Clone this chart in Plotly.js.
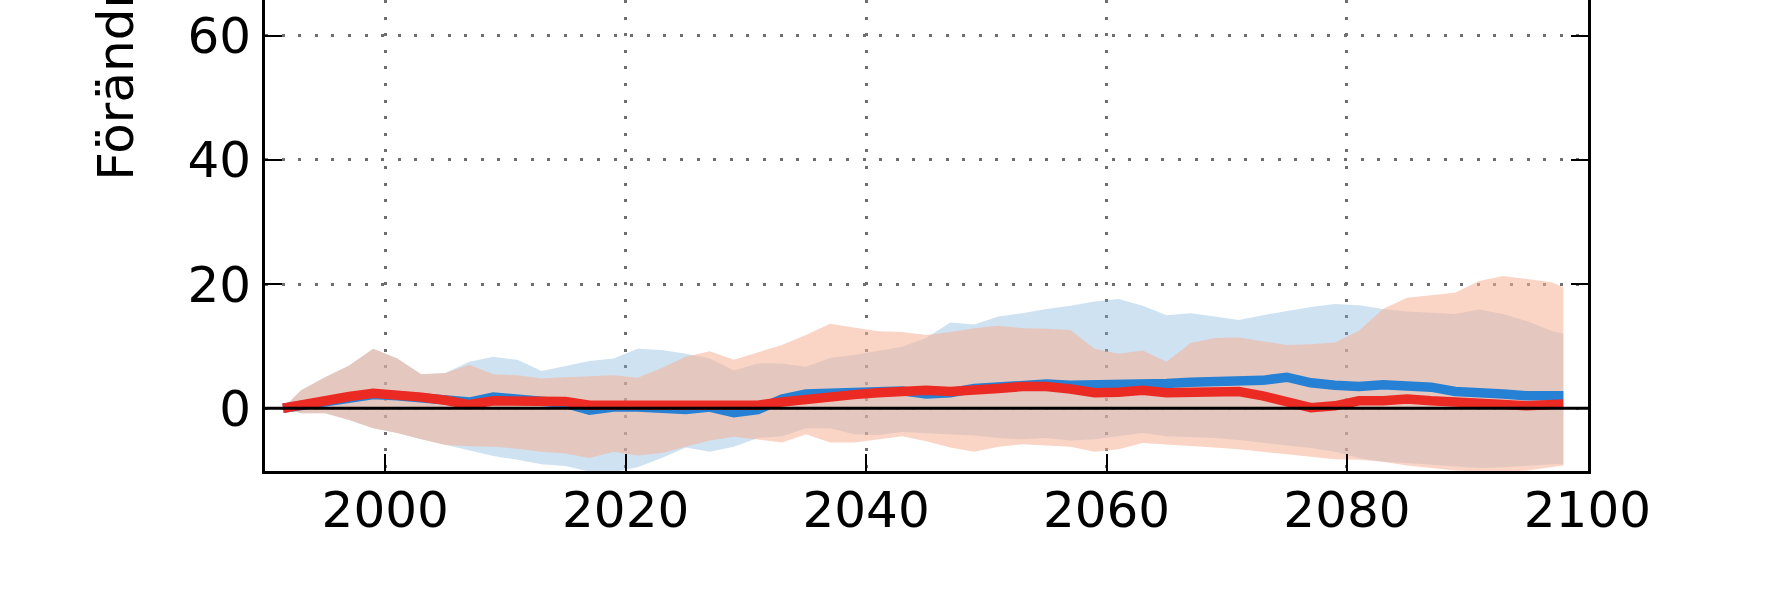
<!DOCTYPE html>
<html>
<head>
<meta charset="utf-8">
<script src="https://cdn.plot.ly/plotly-3.0.1.min.js"></script>
<style>
html,body{margin:0;padding:0;background:#fff;}
#chart{width:1767px;height:590px;}
</style>
</head>
<body>
<div id="chart"></div>
<script>
const years = [1991.5, 1993, 1995, 1997, 1999, 2001, 2003, 2005, 2007, 2009,
  2011, 2013, 2015, 2017, 2019, 2021, 2023, 2025, 2027, 2029,
  2031, 2033, 2035, 2037, 2039, 2041, 2043, 2045, 2047, 2049,
  2051, 2053, 2055, 2057, 2059, 2061, 2063, 2065, 2067, 2069,
  2071, 2073, 2075, 2077, 2079, 2081, 2083, 2085, 2087, 2089,
  2091, 2093, 2095, 2097, 2098];

const redMid = [0, 0.6, 1.1, 1.9, 2.4, 2.2, 1.8, 1.3, 0.6, 1.2,
  1.2, 1.1, 1.1, 0.5, 0.5, 0.3, 0.4, 0.5, 0.6, 0.3,
  0.5, 1.0, 1.5, 1.9, 2.2, 2.5, 2.7, 2.9, 2.7, 2.8,
  3.2, 3.5, 3.5, 3.1, 2.5, 2.6, 2.9, 2.5, 2.6, 2.5,
  2.7, 2.0, 1.2, 0.1, 0.4, 1.2, 1.2, 1.5, 1.2, 0.9,
  0.8, 0.6, 0.4, 0.5, 0.7];

const blueMid = [0, 0.5, 1.0, 1.7, 2.2, 2.0, 1.6, 1.1, 1.0, 1.8,
  1.5, 1.0, 0.8, -0.3, 0.2, 0.2, 0.0, -0.2, 0.2, -0.7,
  -0.2, 1.5, 2.3, 2.4, 2.5, 2.7, 2.8, 2.3, 2.5, 3.2,
  3.5, 3.8, 3.9, 3.7, 3.7, 3.7, 3.8, 4.0, 4.2, 4.3,
  4.3, 4.5, 5.0, 4.1, 3.7, 3.5, 3.8, 3.7, 3.4, 2.7,
  2.6, 2.3, 2.0, 1.9, 2.0];

const blueHigh = [0, 2.9, 5.0, 6.9, 9.6, 8.0, 5.5, 5.7, 7.5, 8.3,
  7.8, 6.0, 6.8, 7.6, 8.0, 9.6, 9.4, 8.8, 8.0, 6.1,
  7.2, 7.2, 6.7, 8.1, 8.6, 9.2, 9.9, 11.3, 13.8, 13.5,
  14.8, 15.3, 16.0, 16.5, 17.2, 17.6, 16.5, 15.0, 15.3, 14.8,
  14.2, 15.0, 15.7, 16.3, 16.8, 16.6, 16.0, 15.6, 15.4, 15.2,
  15.9, 15.2, 14.0, 12.5, 12.0];

const blueLow = [0, -0.8, -0.8, -1.9, -3.2, -4.0, -5.0, -5.9, -6.8, -7.7,
  -8.3, -9.0, -9.3, -10.2, -10.3, -9.5, -8.0, -6.3, -7.0, -6.2,
  -4.8, -4.5, -3.2, -3.2, -4.2, -4.3, -3.8, -4.0, -4.3, -4.4,
  -4.8, -5.0, -4.8, -5.2, -5.0, -4.5, -4.0, -4.5, -4.6, -4.8,
  -5.1, -5.6, -6.0, -6.4, -7.0, -8.0, -8.6, -8.8, -9.1, -9.4,
  -9.6, -9.5, -9.2, -9.0, -9.0];

const redHigh = [0, 2.9, 5.0, 6.9, 9.6, 8.0, 5.5, 5.7, 7.0, 5.5,
  5.3, 4.8, 5.0, 5.1, 5.3, 4.9, 6.5, 8.3, 9.2, 7.8,
  9.0, 10.2, 11.8, 13.6, 13.0, 12.4, 12.3, 11.8, 12.3, 12.9,
  13.3, 12.9, 12.8, 12.6, 9.6, 8.8, 9.3, 7.5, 10.5, 11.3,
  11.4, 10.8, 10.2, 10.3, 10.6, 12.5, 16.0, 17.8, 18.2, 18.6,
  20.5, 21.3, 20.8, 20.3, 19.5];

const redLow = [0, -0.8, -0.8, -1.9, -3.2, -4.0, -5.0, -5.9, -6.1, -6.2,
  -6.5, -7.0, -7.3, -8.0, -7.0, -7.6, -7.2, -6.2, -5.2, -4.6,
  -5.0, -5.5, -4.2, -5.5, -5.5, -5.0, -4.5, -5.3, -6.3, -7.0,
  -6.2, -5.8, -6.0, -6.2, -7.0, -6.6, -5.6, -5.8, -6.0, -6.3,
  -6.6, -7.0, -7.5, -7.9, -8.2, -8.3, -8.6, -9.2, -9.6, -10.0,
  -10.2, -10.3, -10.0, -9.4, -9.2];

const xTicks = [2000, 2020, 2040, 2060, 2080, 2100];
const yTicks = [0, 20, 40, 60];
const yTitle = 'Förändring (%)';

const blueLine = 'rgb(38,128,212)';
const redLine = 'rgb(236,42,36)';
const blueFill = 'rgba(130,180,222,0.38)';
const redFill = 'rgba(245,176,149,0.55)';

const traces = [
  {x: years, y: blueLow, mode: 'lines', line: {width: 0, color: blueFill}, hoverinfo: 'skip', showlegend: false},
  {x: years, y: blueHigh, mode: 'lines', line: {width: 0, color: blueFill}, fill: 'tonexty', fillcolor: blueFill, hoverinfo: 'skip', showlegend: false},
  {x: years, y: redLow, mode: 'lines', line: {width: 0, color: redFill}, hoverinfo: 'skip', showlegend: false},
  {x: years, y: redHigh, mode: 'lines', line: {width: 0, color: redFill}, fill: 'tonexty', fillcolor: redFill, hoverinfo: 'skip', showlegend: false},
  {x: years, y: blueMid, mode: 'lines', line: {width: 9.5, color: blueLine}, showlegend: false},
  {x: years, y: redMid, mode: 'lines', line: {width: 9.5, color: redLine}, showlegend: false}
];

const tickFont = {family: 'DejaVu Sans', size: 50, color: '#000'};

const layout = {
  width: 1767, height: 590,
  margin: {l: 265, r: 179, t: 0, b: 119, pad: 0},
  paper_bgcolor: '#fff', plot_bgcolor: '#fff',
  showlegend: false,
  xaxis: {
    range: [1990, 2100.05], tickvals: xTicks, ticktext: xTicks.map(String),
    showgrid: true, gridcolor: '#6f6f6f', gridwidth: 3, griddash: '3px,13.6px',
    zeroline: false, showline: true, linecolor: '#000', linewidth: 3, mirror: false,
    ticks: 'inside', ticklen: 17, tickwidth: 2, tickcolor: '#000',
    tickfont: tickFont, ticklabelstandoff: -7
  },
  yaxis: {
    range: [-10.1, 65.75], tickvals: yTicks, ticktext: yTicks.map(String),
    showgrid: true, gridcolor: '#6f6f6f', gridwidth: 3, griddash: '3px,13.6px',
    zeroline: false, showline: true, linecolor: '#000', linewidth: 3, mirror: 'ticks',
    ticks: 'inside', ticklen: 17, tickwidth: 2, tickcolor: '#000',
    tickfont: tickFont, ticklabelstandoff: 1
  },
  shapes: [
    {type: 'line', xref: 'paper', yref: 'y', x0: 0, x1: 1, y0: 0, y1: 0, layer: 'above',
     line: {color: '#000', width: 3}}
  ],
  annotations: [
    {text: yTitle, xref: 'paper', yref: 'paper', x: -0.1126, y: 0.611,
     xanchor: 'center', yanchor: 'bottom', textangle: -90, showarrow: false,
     font: {family: 'DejaVu Sans', size: 50, color: '#000'}}
  ]
};

Plotly.newPlot('chart', traces, layout, {staticPlot: true, displayModeBar: false});
</script>
</body>
</html>
